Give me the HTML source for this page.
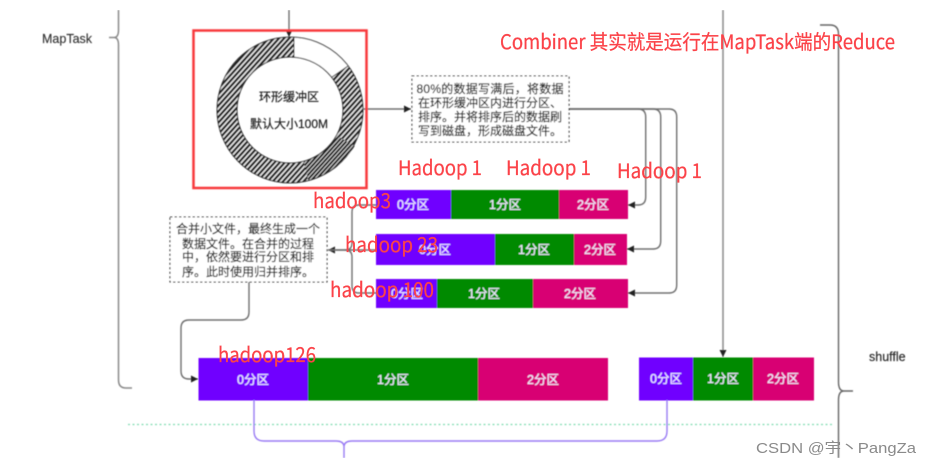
<!DOCTYPE html>
<html><head><meta charset="utf-8">
<style>
html,body{margin:0;padding:0;background:#fff;width:930px;height:467px;overflow:hidden}
svg{display:block}
text{font-family:"Liberation Sans","Noto Sans CJK SC",sans-serif}
.r{font-family:"Noto Sans CJK SC","Liberation Sans",sans-serif;fill:#fb4348;font-size:20px;stroke:#fb4348;stroke-width:.25}
.n{font-size:12px;fill:#222;stroke:#222;stroke-width:.2;text-anchor:middle;font-family:"Liberation Sans","Noto Sans CJK SC",sans-serif}
.b{font-size:12.5px;fill:#efe8ff;stroke:#efe8ff;stroke-width:.25;text-anchor:middle;dominant-baseline:central}
.l{fill:none;stroke:#707070;stroke-width:1.4}
</style></head><body>
<svg width="930" height="467" viewBox="0 0 930 467" xmlns="http://www.w3.org/2000/svg">
<defs>
<pattern id="h" width="3.8" height="3.8" patternUnits="userSpaceOnUse" patternTransform="rotate(-48 0 0)">
<rect width="3.8" height="3.8" fill="#eee"/><rect width="3.8" height="2.300" fill="#1c1c1c"/>
</pattern>
<pattern id="h2" width="3" height="3" patternUnits="userSpaceOnUse" patternTransform="rotate(-48 0 0)">
<rect width="3" height="3" fill="#ddd"/><rect width="3" height="2" fill="#111"/>
</pattern>
<marker id="a" markerWidth="8" markerHeight="8" refX="7" refY="4" orient="auto" markerUnits="userSpaceOnUse"><path d="M0,0.5 L7,4 L0,7.500 Z" fill="#222"/></marker>
<filter id="bl" x="0" y="0" width="100%" height="100%"><feGaussianBlur stdDeviation="0.6"/></filter>
<filter id="bs" x="0" y="0" width="100%" height="100%"><feGaussianBlur stdDeviation="0.3"/></filter>
</defs>
<g filter="url(#bl)">
<!-- braces -->
<path d="M118.5,10 V30 Q118.5,37.5 114,37.5 H109 M114,37.5 Q118.5,37.5 118.5,45 V380 Q118.5,388 126,388 H132" fill="none" stroke="#8a8a8a" stroke-width="1.5"/>
<path d="M820,25 H830 Q838.5,25 838.5,34 V382 Q838.5,391 844,391 H853 M844,391 Q838.5,391 838.5,400 V458" fill="none" stroke="#666" stroke-width="1.4"/>
<!-- ring -->
<circle cx="290" cy="110" r="63" fill="none" stroke="url(#h)" stroke-width="20"/>
<path d="M346,141 A63,63 0 0 1 306,171" fill="none" stroke="url(#h2)" stroke-width="20"/>
<path d="M294,37.1 A73,73 0 0 1 348,66 L332,77 A53,53 0 0 0 294,57 Z" fill="#fff"/>
<circle cx="290" cy="110" r="73" fill="none" stroke="#333" stroke-width="1"/>
<circle cx="290" cy="110" r="53" fill="none" stroke="#333" stroke-width="1"/>
<path d="M294,37 V57 M348,66 L332,77" stroke="#333" stroke-width="1"/>
<text class="n" x="289" y="101">环形缓冲区</text>
<text class="n" x="289" y="128">默认大小100M</text>
<!-- connectors -->
<path d="M289,10 V37" class="l" marker-end="url(#a)"/>
<path d="M723,10 V357" stroke="#8a8a8a" stroke-width="1.5" fill="none" marker-end="url(#a)"/>
<path d="M363,109 H411" class="l" marker-end="url(#a)"/>
<path d="M569,109 H638 Q645.7,109 645.7,117 V197 Q645.7,205 638,205 H628" class="l" marker-end="url(#a)"/>
<path d="M569,109 H653 Q660.7,109 660.7,117 V241 Q660.7,249 653,249 H627" class="l" marker-end="url(#a)"/>
<path d="M569,109 H669 Q676.7,109 676.7,117 V285 Q676.7,293 669,293 H628" class="l" marker-end="url(#a)"/>
<path d="M376,205 H359 Q352,205 352,212 V243 Q352,250 345,250 H328" class="l" marker-end="url(#a)"/>
<path d="M376,250 H328" class="l"/>
<path d="M376,293 H359 Q352,293 352,286 V257 Q352,250 345,250" class="l"/>
<path d="M249,282 V312 Q249,320 241,320 H189 Q181,320 181,328 V371 Q181,379 189,379 H198" class="l" marker-end="url(#a)"/>
<!-- bars -->
<g>
<rect x="376" y="190" width="75" height="29" fill="#6f00ff"/><rect x="451" y="190" width="108" height="29" fill="#008a00"/><rect x="559" y="190" width="69" height="29" fill="#d80073"/>
<rect x="376" y="234" width="119" height="31" fill="#6f00ff"/><rect x="495" y="234" width="79" height="31" fill="#008a00"/><rect x="574" y="234" width="53" height="31" fill="#d80073"/>
<rect x="376" y="279" width="61" height="29" fill="#6f00ff"/><rect x="437" y="279" width="96" height="29" fill="#008a00"/><rect x="533" y="279" width="95" height="29" fill="#d80073"/>
<rect x="198.500" y="358" width="109.500" height="42.500" fill="#6f00ff"/><rect x="308" y="358" width="170" height="42.500" fill="#008a00"/><rect x="478" y="358" width="130" height="42.500" fill="#d80073"/>
<rect x="639" y="357.500" width="54" height="43" fill="#6f00ff"/><rect x="693" y="357.500" width="60" height="43" fill="#008a00"/><rect x="753" y="357.500" width="61" height="43" fill="#d80073"/>
</g>
<text class="b" x="413" y="205">0分区</text><text class="b" x="505" y="205">1分区</text><text class="b" x="593" y="205">2分区</text>
<text class="b" x="435" y="250">0分区</text><text class="b" x="534" y="250">1分区</text><text class="b" x="600" y="250">2分区</text>
<text class="b" x="407" y="294">0分区</text><text class="b" x="484" y="294">1分区</text><text class="b" x="580" y="294">2分区</text>
<text class="b" x="253" y="380">0分区</text><text class="b" x="393" y="380">1分区</text><text class="b" x="543" y="380">2分区</text>
<text class="b" x="666" y="379">0分区</text><text class="b" x="723" y="379">1分区</text><text class="b" x="783" y="379">2分区</text>
<!-- dashed boxes -->
<rect x="412" y="76" width="157" height="66" fill="#fff" stroke="#333" stroke-width="1.100" stroke-dasharray="2.500 2"/>
<text class="n" x="490" y="93" textLength="147">80%的数据写满后，将数据</text>
<text class="n" x="490" y="107">在环形缓冲区内进行分区、</text>
<text class="n" x="490" y="121">排序。并将排序后的数据刷</text>
<text class="n" x="490" y="135">写到磁盘，形成磁盘文件。</text>
<rect x="170" y="217" width="157" height="65" fill="#fff" stroke="#333" stroke-width="1.100" stroke-dasharray="2.500 2"/>
<text class="n" x="248" y="233">合并小文件，最终生成一个</text>
<text class="n" x="248" y="248">数据文件。在合并的过程</text>
<text class="n" x="248" y="261">中，依然要进行分区和排</text>
<text class="n" x="248" y="276">序。此时使用归并排序。</text>
<!-- other lines -->
<path d="M128,424.500 H833" stroke="#7fdcb0" stroke-width="1.200" stroke-dasharray="2 2.500" fill="none"/>
<path d="M254,400 V431 Q254,441 264,441 H336 Q344,441 344,447 V458 M344,447 Q344,441 352,441 H657 Q667,441 667,431 V400" fill="none" stroke="#9a7cf4" stroke-width="1.400"/>
<text x="42" y="43" font-size="12.500" fill="#333" stroke="#333" stroke-width=".15">MapTask</text>
<text x="869" y="361" font-size="12.500" fill="#222" stroke="#222" stroke-width=".15">shuffle</text>
<!-- red frame -->
<rect x="193.500" y="30.500" width="173" height="157.500" fill="none" stroke="#f8393d" stroke-width="2.500"/>
</g>
<!-- red labels -->
<g filter="url(#bs)">
<text class="r" x="500" y="49" textLength="395" lengthAdjust="spacingAndGlyphs">Combiner 其实就是运行在MapTask端的Reduce</text>
<text class="r" x="398" y="175" textLength="84" lengthAdjust="spacingAndGlyphs">Hadoop 1</text>
<text class="r" x="506" y="175" textLength="85" lengthAdjust="spacingAndGlyphs">Hadoop 1</text>
<text class="r" x="617" y="178" textLength="85" lengthAdjust="spacingAndGlyphs">Hadoop 1</text>
<text class="r" x="313" y="208" textLength="78" lengthAdjust="spacingAndGlyphs">hadoop3</text>
<text class="r" x="345" y="252" textLength="93" lengthAdjust="spacingAndGlyphs">hadoop 23</text>
<text class="r" x="330" y="297" textLength="104" lengthAdjust="spacingAndGlyphs">hadoop 100</text>
<text class="r" x="218" y="362" textLength="98" lengthAdjust="spacingAndGlyphs">hadoop126</text>
<text x="756" y="453" font-size="14.500" fill="#8a8a8a" textLength="160" lengthAdjust="spacingAndGlyphs">CSDN @宇丶PangZa</text>
</g>
</svg>
</body></html>
